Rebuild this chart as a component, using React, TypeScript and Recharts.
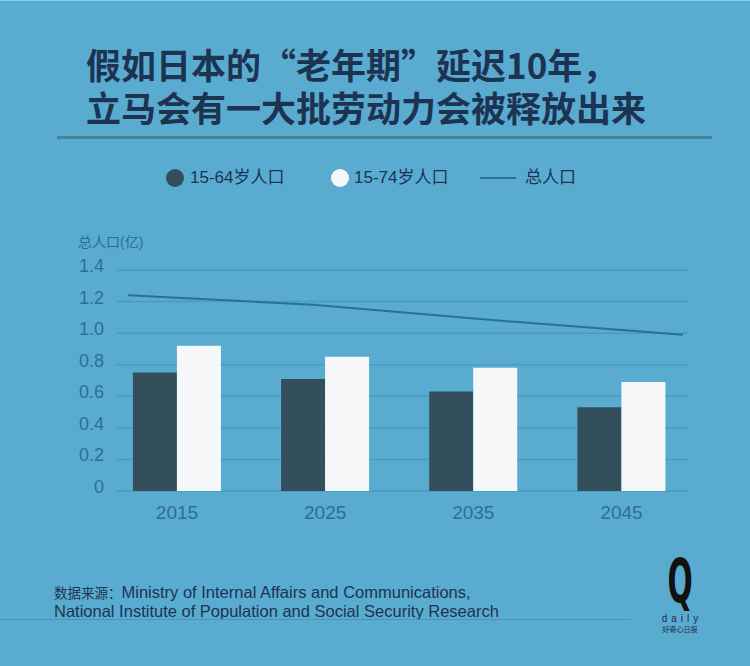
import React from "react";
import {
  ComposedChart,
  Bar,
  Line,
  XAxis,
  YAxis,
  CartesianGrid,
} from "recharts";

const years = [2015, 2025, 2035, 2045];
const pop1564 = [0.75, 0.71, 0.63, 0.53];
const pop1574 = [0.92, 0.85, 0.78, 0.69];
const popTotal = [1.24, 1.18, 1.08, 0.99];
const yTicks = [0, 0.2, 0.4, 0.6, 0.8, 1.0, 1.2, 1.4];

const seriesNames = ["15-64岁人口", "15-74岁人口", "总人口"];
const titleLines = ["假如日本的“老年期”延迟10年，", "立马会有一大批劳动力会被释放出来"];
const sourcePrefix = "数据来源：";
const sourceLines = [
  "Ministry of Internal Affairs and Communications,",
  "National Institute of Population and Social Security Research",
];
const yAxisLabel = "总人口(亿)";

const data = years.map((y, i) => ({
  year: y,
  a: pop1564[i],
  b: pop1574[i],
  t: popTotal[i],
}));

const BG = "#5aabd0";
const DARK = "#344f5c";
const WHITE = "#f6f7f9";
const LINE = "#2b6f94";
const GRID = "#4a9ac3";
const TEXT = "#1d3352";
const TICK = "#2c6f95";

const YTick = (props: any) => {
  const { x, y, payload } = props;
  const v = payload.value;
  const label = v === 0 ? "0" : v.toFixed(1);
  return (
    <text
      x={x - 13}
      y={y - 4}
      textAnchor="end"
      dominantBaseline="central"
      fill={TICK}
      fontSize={18}
      fontFamily="Liberation Sans, Arial, sans-serif"
    >
      {label}
    </text>
  );
};

const XTick = (props: any) => {
  const { x, y, payload } = props;
  return (
    <text
      x={x}
      y={y + 21}
      textAnchor="middle"
      dominantBaseline="central"
      fill={TICK}
      fontSize={19}
      fontFamily="Liberation Sans, Arial, sans-serif"
    >
      {payload.value}
    </text>
  );
};

const LegendBlock = () => (
  <div
    style={{
      position: "absolute",
      left: 0,
      top: 166,
      width: 750,
      height: 24,
      fontFamily: "Liberation Sans, 'Noto Sans CJK SC', sans-serif",
      fontSize: 17,
      color: TEXT,
    }}
  >
    <span style={{ position: "absolute", left: 166, top: 3, width: 18, height: 18, borderRadius: 9, background: DARK }} />
    <span style={{ position: "absolute", left: 190, top: 0, lineHeight: "24px", whiteSpace: "nowrap" }}>{seriesNames[0]}</span>
    <span style={{ position: "absolute", left: 331, top: 3, width: 18, height: 18, borderRadius: 9, background: WHITE }} />
    <span style={{ position: "absolute", left: 354, top: 0, lineHeight: "24px", whiteSpace: "nowrap" }}>{seriesNames[1]}</span>
    <span style={{ position: "absolute", left: 480, top: 11, width: 36, height: 2, background: LINE }} />
    <span style={{ position: "absolute", left: 525, top: 0, lineHeight: "24px", whiteSpace: "nowrap" }}>{seriesNames[2]}</span>
  </div>
);

export default function App() {
  return (
    <div
      style={{
        position: "absolute",
        left: 0,
        top: 0,
        width: 750,
        height: 666,
        background: BG,
        overflow: "hidden",
        fontFamily: "Liberation Sans, 'Noto Sans CJK SC', sans-serif",
      }}
    >
      <div style={{ position: "absolute", left: 0, top: 0, width: 750, height: 1, background: "#8ecbe8" }} />
      <div
        style={{
          position: "absolute",
          left: 86,
          top: 46,
          fontFamily: "'Noto Sans CJK SC', sans-serif",
          fontWeight: 700,
          fontSize: 35,
          lineHeight: "36px",
          color: TEXT,
          whiteSpace: "nowrap",
        }}
      >
        <div style={{ height: 36 }}>{titleLines[0]}</div>
        <div style={{ height: 36, marginTop: 7 }}>{titleLines[1]}</div>
      </div>
      <div style={{ position: "absolute", left: 57, top: 136, width: 655, height: 3, background: "#4b7e99" }} />

      <LegendBlock />

      <div
        style={{
          position: "absolute",
          left: 78,
          top: 231,
          fontSize: 14,
          color: TICK,
          fontFamily: "Liberation Sans, 'Noto Sans CJK SC', sans-serif",
          whiteSpace: "nowrap",
        }}
      >
        {yAxisLabel}
      </div>

      <div style={{ position: "absolute", left: 0, top: 0 }}>
        <ComposedChart
          width={750}
          height={666}
          data={data}
          margin={{ top: 270, right: 62, bottom: 145, left: 57 }}
          barGap={0}
          barSize={44}
        >
          <CartesianGrid
            xAxisId="bar"
            horizontal={true}
            vertical={false}
            stroke={GRID}
            strokeWidth={1.5}
          />
          <XAxis
            xAxisId="bar"
            dataKey="year"
            type="number"
            domain={[2010.95, 2049.49]}
            ticks={years}
            allowDataOverflow
            axisLine={false}
            tickLine={false}
            tickSize={0}
            tickMargin={0}
            height={30}
            tick={<XTick />}
            interval={0}
          />
          <XAxis
            xAxisId="line"
            dataKey="year"
            type="number"
            domain={[2014.405, 2045.27]}
            allowDataOverflow
            hide
          />
          <YAxis
            domain={[0, 1.4]}
            ticks={yTicks}
            axisLine={false}
            tickLine={false}
            tickSize={0}
            tickMargin={0}
            width={60}
            tick={<YTick />}
            interval={0}
          />
          <Bar xAxisId="bar" dataKey="a" name={seriesNames[0]} fill={DARK} isAnimationActive={false} />
          <Bar xAxisId="bar" dataKey="b" name={seriesNames[1]} fill={WHITE} isAnimationActive={false} />
          <Line
            xAxisId="line"
            dataKey="t"
            name={seriesNames[2]}
            stroke={LINE}
            strokeWidth={2}
            dot={false}
            type="linear"
            isAnimationActive={false}
          />
        </ComposedChart>
      </div>

      <div
        style={{
          position: "absolute",
          left: 54,
          top: 584,
          fontSize: 16.5,
          lineHeight: "16.5px",
          color: TEXT,
          whiteSpace: "nowrap",
        }}
      >
        <div>
          <span style={{ fontSize: 13.5 }}>{sourcePrefix}</span>
          {sourceLines[0]}
        </div>
        <div>{sourceLines[1]}</div>
      </div>
      <div style={{ position: "absolute", left: 0, top: 619, width: 631, height: 1, background: "#4a93b9" }} />

      <div
        style={{
          position: "absolute",
          left: 655,
          top: 552,
          width: 50,
          height: 58,
          textAlign: "center",
          color: "#111",
          fontFamily: "'DejaVu Sans Condensed', 'DejaVu Sans', sans-serif",
          fontWeight: 700,
          fontSize: 60,
          lineHeight: "58px",
          transform: "scaleX(0.55)",
        }}
      >
        Q
      </div>
      <div
        style={{
          position: "absolute",
          left: 660,
          top: 614,
          width: 44,
          textAlign: "center",
          fontSize: 10,
          letterSpacing: 4,
          lineHeight: "10px",
          color: "#1d2a40",
        }}
      >
        daily
      </div>
      <div
        style={{
          position: "absolute",
          left: 655,
          top: 625,
          width: 50,
          textAlign: "center",
          fontSize: 7,
          lineHeight: "9px",
          fontFamily: "'Noto Sans CJK SC', sans-serif",
          color: "#1d2a40",
        }}
      >
        好奇心日报
      </div>
    </div>
  );
}
